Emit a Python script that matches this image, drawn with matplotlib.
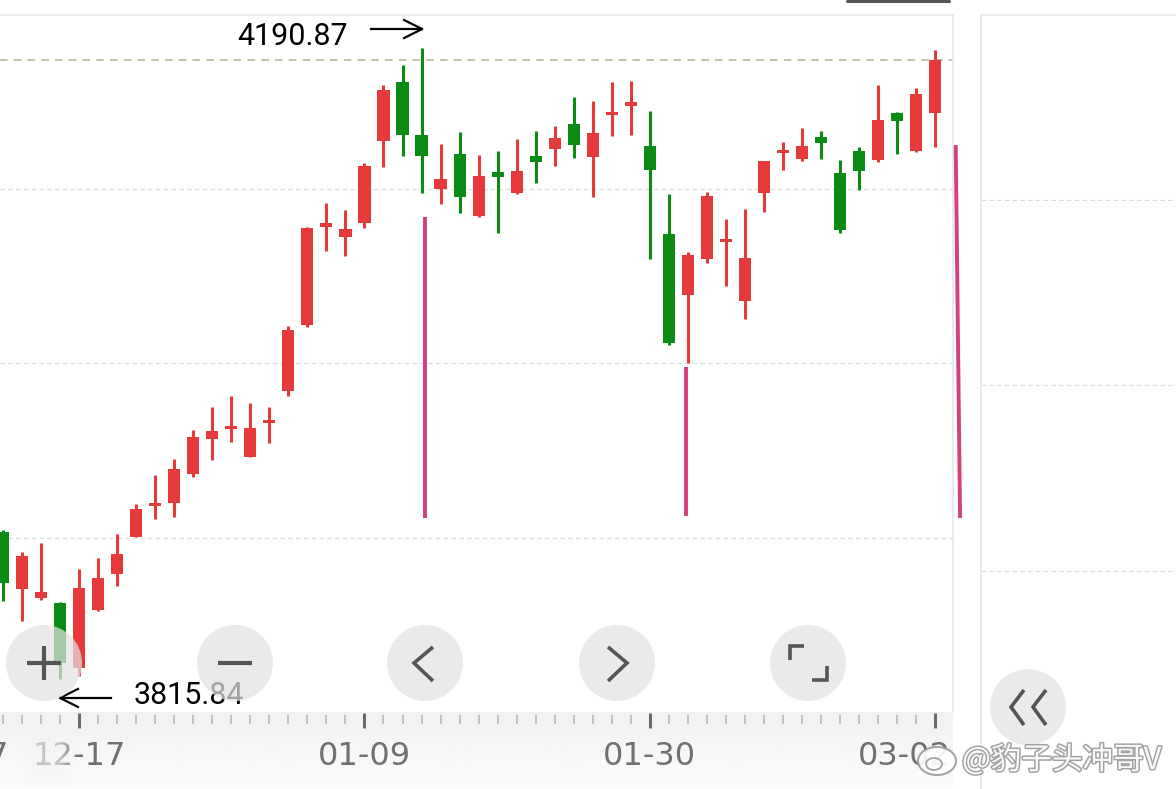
import numpy as np
import matplotlib.pyplot as plt
from matplotlib.patches import Ellipse
from matplotlib.lines import Line2D
import matplotlib.patheffects as pe

# 日K线截图还原 (12-11 ~ 03-02)
dates = ["12-11", "12-12", "12-15", "12-16", "12-17", "12-18", "12-19", "12-22", "12-23", "12-24",
         "12-25", "12-26", "12-29", "12-30", "12-31", "01-05", "01-06", "01-07", "01-08", "01-09",
         "01-12", "01-13", "01-14", "01-15", "01-16", "01-19", "01-20", "01-21", "01-22", "01-23",
         "01-26", "01-27", "01-28", "01-29", "01-30", "02-02", "02-03", "02-04", "02-05", "02-06",
         "02-09", "02-10", "02-11", "02-12", "02-13", "02-24", "02-25", "02-26", "02-27", "03-02"]

opens = [3903.2, 3869.2, 3863.8, 3861.2, 3822.2, 3856.9, 3878.1, 3900.4, 3918.7, 3920.3,
         3937.5, 3958.3, 3964.3, 3948.0, 3967.8, 3987.2, 4026.2, 4084.7, 4078.4, 4087.0,
         4135.8, 4170.5, 4139.2, 4106.9, 4127.9, 4091.0, 4117.4, 4104.5, 4126.9, 4131.0,
         4145.7, 4126.3, 4151.1, 4156.4, 4132.8, 4080.3, 4044.1, 4065.3, 4075.4, 4040.7,
         4104.5, 4128.3, 4125.2, 4137.7, 4116.8, 4129.8, 4124.3, 4152.1, 4129.8, 4152.4]
highs = [3904.4, 3891.2, 3896.5, 3861.8, 3881.2, 3887.6, 3902.0, 3919.7, 3937.1, 3946.4,
         3963.8, 3977.3, 3984.0, 3979.7, 3977.3, 4025.6, 4084.2, 4098.9, 4094.6, 4122.3,
         4168.9, 4180.8, 4190.87, 4133.6, 4140.8, 4127.3, 4129.7, 4136.8, 4141.5, 4144.5,
         4161.8, 4159.4, 4170.8, 4171.4, 4153.4, 4104.1, 4069.5, 4105.1, 4089.2, 4095.2,
         4124.0, 4135.2, 4143.3, 4141.5, 4124.3, 4131.9, 4168.9, 4153.0, 4166.9, 4189.5]
lows = [3862.2, 3850.3, 3862.8, 3815.84, 3817.6, 3856.4, 3871.3, 3900.0, 3910.8, 3912.3,
        3936.1, 3946.0, 3956.9, 3947.6, 3955.9, 3984.0, 4025.2, 4070.2, 4067.4, 4084.1,
        4120.3, 4126.9, 4104.5, 4098.0, 4092.6, 4090.6, 4081.1, 4104.0, 4110.8, 4120.9,
        4125.7, 4102.5, 4138.8, 4139.3, 4065.3, 4014.4, 4003.5, 4063.3, 4049.6, 4029.8,
        4093.6, 4118.4, 4123.7, 4125.2, 4080.7, 4106.5, 4123.3, 4127.9, 4129.2, 4132.2]
closes = [3872.9, 3889.1, 3867.6, 3825.2, 3869.8, 3875.7, 3890.1, 3916.9, 3919.9, 3940.7,
          3959.7, 3963.4, 3966.2, 3964.8, 3969.8, 4023.3, 4083.7, 4086.7, 4083.1, 4120.7,
          4165.9, 4139.2, 4126.9, 4113.0, 4102.5, 4114.8, 4114.4, 4117.8, 4123.3, 4137.2,
          4133.2, 4140.5, 4152.4, 4159.0, 4118.4, 4015.7, 4067.8, 4102.9, 4077.4, 4066.2,
          4123.7, 4130.3, 4132.6, 4134.4, 4082.7, 4118.0, 4148.1, 4147.7, 4163.5, 4183.7]

grid_levels = [3899.6, 4003.7, 4107.1]
label_idx = [4, 19, 34, 49]
prev_label = "11-27"

# 手画的粉色竖线
pink_x0 = [22.16, 35.9, 50.07]
pink_x1 = [22.16, 35.9, 50.3]
pink_top = [4090.4, 4001.3, 4133.2]
pink_bot = [3911.5, 3912.7, 3911.5]

watermark = "@豹子头冲哥V"

W, H = 1176, 789
RED = '#E5393A'
GREEN = '#0B8A14'
PINK = '#D43F7E'

fig = plt.figure(figsize=(W / 100, H / 100), dpi=100)
fig.patch.set_facecolor('white')


def fx(px):
    return px / W


def fy(py):
    return 1 - py / H


# ---- 主图 ----
ax = fig.add_axes([0, fy(712), fx(953), (712 - 15) / H])
ax.set_xlim(-0.151, 49.928)
ax.set_ylim(3796.2, 4210.5)
ax.set_xticks([])
ax.set_yticks([])
for s in ['left', 'bottom']:
    ax.spines[s].set_visible(False)
for s in ['top', 'right']:
    ax.spines[s].set_color('#E6E6E6')
    ax.spines[s].set_linewidth(1.2)

px_x = (ax.get_xlim()[1] - ax.get_xlim()[0]) / 953
px_y = (ax.get_ylim()[1] - ax.get_ylim()[0]) / 697

for g in grid_levels:
    ax.axhline(g, color='#DADADA', lw=0.8, ls=(0, (4, 3)), zorder=1)
ax.axhline(closes[-1], color='#B9AE94', lw=1.1, ls=(0, (5, 4)), zorder=1)

o = np.array(opens)
c = np.array(closes)
hi = np.array(highs)
lo = np.array(lows)
x = np.arange(len(dates))
cols = np.where(c >= o, RED, GREEN)
ax.vlines(x, lo, hi, colors=cols, lw=2.2, zorder=3)
body_h = np.maximum(np.abs(c - o), 3 * px_y)
ax.bar(x, body_h, bottom=np.minimum(o, c), width=0.64, color=cols, zorder=4)

for a0, a1, t, b in zip(pink_x0, pink_x1, pink_top, pink_bot):
    ax.plot([a0, a1], [t, b], color=PINK, lw=2.8, clip_on=False, zorder=3, solid_capstyle='butt')

# 最高 / 最低 标注
i_hi = int(np.argmax(hi))
i_lo = int(np.argmin(lo))
ya = hi[i_hi] + 19 * px_y
tip = i_hi + 0.03
tail = tip - 51 * px_x
ax.plot([tail, tip], [ya, ya], color='black', lw=1.6, zorder=6)
ax.plot([tip - 18 * px_x, tip, tip - 18 * px_x], [ya + 9 * px_y, ya, ya - 9 * px_y],
        color='black', lw=1.6, zorder=6)
ax.text(tail - 23 * px_x, ya - 7 * px_y, f"{hi[i_hi]:.2f}", ha='right', va='center',
        fontsize=22, family='Roboto', color='black', zorder=6)

yb = lo[i_lo] - 19 * px_y
tip = i_lo
tail = tip + 51 * px_x
ax.plot([tail, tip], [yb, yb], color='black', lw=1.6, zorder=6)
ax.plot([tip + 18 * px_x, tip, tip + 18 * px_x], [yb + 9 * px_y, yb, yb - 9 * px_y],
        color='black', lw=1.6, zorder=6)
ax.text(tail + 23 * px_x, yb + 2 * px_y, f"{lo[i_lo]:.2f}", ha='left', va='center',
        fontsize=22, family='Roboto', color='black', zorder=6)

# ---- 底部时间轴 ----
axs = fig.add_axes([0, 0, fx(953), (789 - 712) / H])
axs.set_xlim(ax.get_xlim())
axs.set_ylim(0, 1)
axs.axis('off')
grad = np.linspace(0.945, 0.985, 50)[:, None] * np.ones((1, 10))
axs.imshow(grad, cmap='gray', vmin=0, vmax=1, aspect='auto',
           extent=[*ax.get_xlim(), 0, 1], origin='upper', zorder=0)
tr = axs.get_xaxis_transform()
minor = [i for i in x if i not in label_idx]
axs.vlines(minor, 0.844, 0.961, colors='#B3B3B3', lw=1.1, transform=tr, zorder=2)
axs.vlines(label_idx, 0.79, 0.987, colors='#6A6A6A', lw=2.2, transform=tr, zorder=2)
for k, i in enumerate(label_idx):
    if k == len(label_idx) - 1:
        axs.text(0.998, 0.42, dates[i], transform=axs.transAxes, ha='right', va='center',
                 fontsize=23, color='#707070', zorder=3)
    else:
        axs.text(i, 0.42, dates[i], transform=tr, ha='center', va='center',
                 fontsize=23, color='#707070', zorder=3)
axs.text(9 / 953, 0.42, prev_label, transform=axs.transAxes, ha='right', va='center',
         fontsize=23, color='#707070', zorder=3)
# 左侧渐隐
fade = np.zeros((1, 60, 4))
fade[..., :3] = 0.96
fade[0, :, 3] = np.concatenate([np.linspace(0, 0.65, 20), np.full(20, 0.65), np.linspace(0.65, 0, 20)])
axs.imshow(fade, aspect='auto', extent=[0.9, 4.0, 0.05, 0.8], zorder=4)

# ---- 右侧面板 ----
axr = fig.add_axes([fx(981), 0, 1 - fx(981), (789 - 15) / H])
axr.set_xlim(0, 1)
axr.set_ylim(0, 1)
axr.set_xticks([])
axr.set_yticks([])
for s in ['right', 'bottom']:
    axr.spines[s].set_visible(False)
for s in ['left', 'top']:
    axr.spines[s].set_color('#E6E6E6')
    axr.spines[s].set_linewidth(1.2)
for gy in [200, 385, 571]:
    axr.axhline((789 - gy) / 774, color='#DADADA', lw=0.8, ls=(0, (4, 3)))

# 顶部小横条
fig.add_artist(Line2D([fx(847), fx(949)], [fy(0.5), fy(0.5)], color='#555555', lw=2.2,
                      solid_capstyle='round'))

# ---- 按钮 ----
btns = [(44, 663), (235, 663), (425, 663), (617, 663), (808, 663), (1028, 707)]
for bx, by in btns:
    fig.add_artist(Ellipse((fx(bx), fy(by)), 76 / W, 76 / H, transform=fig.transFigure,
                           fc='#E3E3E3', ec='none', alpha=0.72, zorder=10))


def icon(pts, lw=2.6):
    fig.add_artist(Line2D([fx(p[0]) for p in pts], [fy(p[1]) for p in pts], color='#555555',
                          lw=lw, solid_capstyle='butt', solid_joinstyle='miter', zorder=11))


icon([(27, 663), (61, 663)], 3.0)
icon([(44, 646), (44, 680)], 3.0)
icon([(218, 663), (252, 663)], 3.0)
icon([(433, 647), (414, 663), (433, 681)])
icon([(608, 647), (627, 663), (608, 681)])
icon([(790, 660), (790, 646), (804, 646)])
icon([(812, 680), (827, 680), (827, 666)])
icon([(1024, 690), (1011, 707), (1024, 725)])
icon([(1046, 690), (1033, 707), (1046, 725)])

# ---- 水印 ----
fig.add_artist(Ellipse((fx(937), fy(761)), 38 / W, 28 / H, transform=fig.transFigure,
                       fc='white', ec='#9A9A9A', lw=1.5, alpha=0.9, zorder=12))
fig.add_artist(Ellipse((fx(934), fy(764)), 16 / W, 12 / H, transform=fig.transFigure,
                       fc='none', ec='#9A9A9A', lw=1.3, alpha=0.9, zorder=12))
fig.text(fx(962), fy(760), watermark, ha='left', va='center', fontsize=22,
         family=['Noto Sans CJK SC', 'DejaVu Sans'], color='white', alpha=0.95, zorder=12,
         path_effects=[pe.withStroke(linewidth=2.2, foreground='#8C8C8C', alpha=0.8)])

fig.savefig('out.png', dpi=100)
